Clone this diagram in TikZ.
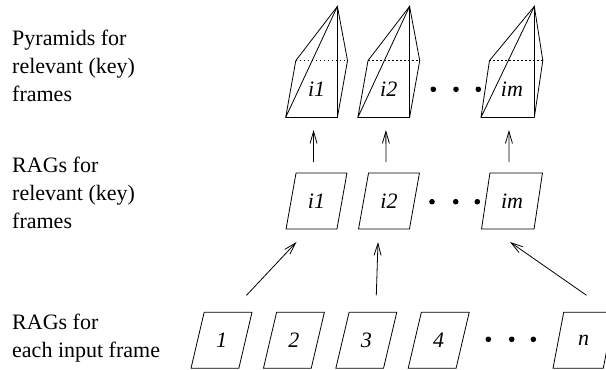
\documentclass[tikz,border=0pt]{standalone}
\usepackage{fontspec}
\setmainfont{Liberation Serif}
\usetikzlibrary{shapes.geometric, arrows.meta}
\tikzstyle{arrow} = [line width=0.8pt, -{Straight Barb[length=12pt,width=7pt]}]
\tikzstyle{rag} = [trapezium, trapezium left angle=74, trapezium right angle=106, trapezium stretches=true, minimum width=61pt, minimum height=56pt, inner sep=0pt, line width=0.8pt, font=\fontsize{22}{26}\selectfont\itshape]
\tikzstyle{lbl} = [anchor=base west, align=left, inner sep=0pt, font=\fontsize{22}{28}\selectfont]

\begin{document}
\begin{tikzpicture}[x=1pt, y=-1pt]
        \useasboundingbox (0, 0) rectangle (606, 370);
        % row texts (placed at the baseline of their last line)
        \node[lbl] (tpyr) at (12, 101) {Pyramids for\\relevant (key)\\frames};
        \node[lbl] (tkey) at (12, 228.3) {RAGs for\\relevant (key)\\frames};
        \node[lbl] (tinp) at (12, 357.7) {RAGs for\\each input frame};
        % pyramids
        \node[rag] (p1) at (316.6, 89) {i1};
        \node[rag] (p2) at (388.8, 89) {i2};
        \node[rag] (pm) at (511.9, 89) {im};
        \foreach \p in {p1, p2, pm} {
                \coordinate (\p a) at ([yshift=111pt]\p.bottom right corner);
                \draw[line width=0.8pt] (\p.top left corner) -- (\p.bottom left corner) -- (\p.bottom right corner) -- (\p.top right corner) -- (\p a) -- (\p.bottom left corner);
                \draw[line width=0.8pt] (\p a) -- (\p.top left corner);
                \draw[line width=0.8pt] (\p a) -- (\p.bottom right corner);
                \draw[line width=0.8pt, dash pattern=on 1.5pt off 2.5pt] (\p.top left corner) -- (\p.top right corner);
        }
        % key RAGs
        \node[rag, draw] (m1) at (316.5, 201) {i1};
        \node[rag, draw] (m2) at (389, 201) {i2};
        \node[rag, draw] (mm) at (512, 201) {im};
        % input RAGs
        \node[rag, draw] (b1) at (221.5, 340.3) {1};
        \node[rag, draw] (b2) at (293.9, 340.3) {2};
        \node[rag, draw] (b3) at (366.3, 340.3) {3};
        \node[rag, draw] (b4) at (438.7, 340.3) {4};
        \node[rag, draw] (bn) at (583.5, 340.3) {n};
        % dots
        \foreach \x in {433.3, 456, 478.3} \fill (\x, 89.3) circle (2.8pt);
        \foreach \x in {432, 455.7, 477.3} \fill (\x, 201.7) circle (2.8pt);
        \foreach \x in {488.3, 511.7, 533.3} \fill (\x, 339.3) circle (2.8pt);
        % arrows
        \draw[arrow, shorten <=39pt, shorten >=41pt] ([xshift=-3pt]m1.center) -- ([xshift=-3pt]p1.center);
        \draw[arrow, shorten <=39pt, shorten >=41pt] ([xshift=-3pt]m2.center) -- ([xshift=-3pt]p2.center);
        \draw[arrow, shorten <=39pt, shorten >=41pt] ([xshift=-3pt]mm.center) -- ([xshift=-3pt]pm.center);
        \draw[arrow] ([shift={(25pt,45pt)}]b1.center) -- ([shift={(-20pt,-41pt)}]m1.center);
        \draw[arrow] ([shift={(10pt,45pt)}]b3.center) -- ([shift={(-11pt,-41pt)}]m2.center);
        \draw[arrow] ([shift={(3pt,45pt)}]bn.center) -- ([shift={(-2pt,-41pt)}]mm.center);
\end{tikzpicture}
\end{document}
